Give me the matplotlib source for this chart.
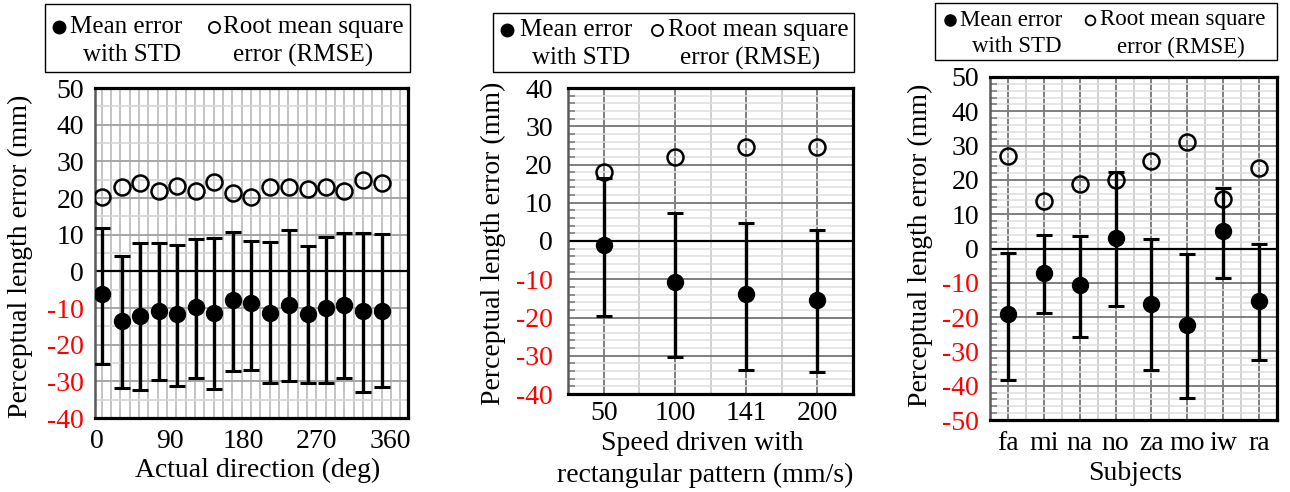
import matplotlib
matplotlib.use('Agg')
import matplotlib.pyplot as plt
import numpy as np
from matplotlib.patches import Rectangle
from matplotlib.lines import Line2D
from matplotlib.ticker import FixedLocator, MultipleLocator

# ---------------- data ----------------
directions = [6, 31, 53, 76, 99, 122, 144, 167, 190, 213, 236, 259, 281, 304, 327, 350]
dir_mean = [-6.3, -13.6, -12.1, -10.7, -11.5, -9.8, -11.3, -7.7, -8.6, -11.3, -9.3, -11.5, -10.0, -9.1, -10.7, -10.7]
dir_upper = [11.8, 4.3, 7.7, 7.7, 7.3, 8.8, 9.1, 10.7, 8.4, 7.9, 11.4, 6.8, 9.3, 10.5, 10.5, 10.2]
dir_lower = [-25.4, -31.8, -32.4, -29.7, -31.4, -29.2, -32.1, -27.1, -26.8, -30.4, -30.0, -30.4, -30.4, -29.2, -32.9, -31.6]
dir_rmse = [20.3, 23.0, 24.1, 22.0, 23.2, 22.0, 24.3, 21.4, 20.3, 23.0, 23.0, 22.5, 23.0, 22.0, 25.0, 24.1]
dir_ticks = [0, 90, 180, 270, 360]

speed_labels = ['50', '100', '141', '200']
speed_mean = [-1.0, -10.6, -13.9, -15.4]
speed_upper = [16.4, 7.4, 4.8, 2.9]
speed_lower = [-19.5, -30.2, -33.7, -34.3]
speed_rmse = [18.1, 22.0, 24.5, 24.5]

subjects = ['fa', 'mi', 'na', 'no', 'za', 'mo', 'iw', 'ra']
subj_mean = [-19.1, -7.1, -10.5, 3.0, -16.3, -22.4, 5.0, -15.2]
subj_upper = [-1.3, 4.0, 3.6, 22.2, 2.8, -1.7, 17.7, 1.2]
subj_lower = [-38.3, -18.9, -25.9, -16.8, -35.4, -43.6, -8.7, -32.5]
subj_rmse = [27.1, 13.8, 18.9, 20.1, 25.4, 31.0, 14.5, 23.4]

ylabel = 'Perceptual length error (mm)'
leg_mean = ('Mean error', 'with STD')
leg_rmse = ('Root mean square', 'error (RMSE)')

# ---------------- figure ----------------
W, H = 1290, 492
plt.rcParams['font.family'] = ['Liberation Serif', 'DejaVu Serif']
fig = plt.figure(figsize=(W / 100, H / 100), dpi=100)


def fx(x):
    return x / W


def fy(y):
    return 1 - y / H


def add_axes(l, t, r, b):
    return fig.add_axes([fx(l), fy(b), (r - l) / W, (b - t) / H])


TICK_FS = 20
LAB_FS = 20


def style_axes(ax, ymin, ymax, ymin_minor, pad_y, pad_x, left_ticks=True):
    ax.set_ylim(ymin, ymax)
    yt = list(range(ymin, ymax + 1, 10))
    ax.set_yticks(yt)
    ax.set_yticklabels([str(v) for v in yt], fontsize=TICK_FS)
    for lab, v in zip(ax.get_yticklabels(), yt):
        lab.set_color('#ff0000' if v < 0 else 'black')
    ax.yaxis.set_minor_locator(MultipleLocator(ymin_minor))
    ax.tick_params(axis='y', which='major', length=0, pad=pad_y)
    if left_ticks:
        ax.tick_params(axis='y', which='minor', direction='in', length=5,
                       width=1.2, color='#808080')
    else:
        ax.tick_params(axis='y', which='minor', length=0)
    ax.tick_params(axis='x', which='both', length=0, pad=pad_x, labelsize=TICK_FS)
    for s in ['top', 'right', 'bottom']:
        ax.spines[s].set_color('black')
        ax.spines[s].set_linewidth(2.3)
    ax.spines['left'].set_color('#595959')
    ax.spines['left'].set_linewidth(1.8)
    ax.set_axisbelow(True)
    ax.axhline(0, color='black', lw=1.6, zorder=2)


def draw_data(ax, x, mean, upper, lower, rmse):
    m = np.array(mean)
    yerr = [m - np.array(lower), np.array(upper) - m]
    ax.errorbar(x, mean, yerr=yerr, fmt='o', color='black', ms=11.5,
                elinewidth=2.4, capsize=5.5, capthick=2.2, zorder=3)
    ax.plot(x, rmse, 'o', mfc='none', mec='black', ms=11.5, mew=1.8,
            ls='none', zorder=4)


# ---- panel 1 ----
ax1 = add_axes(95, 88, 408, 418)
ax1.set_xlim(-2.1, 382.1)
style_axes(ax1, -40, 50, 5, 8, 8, left_ticks=False)
ax1.set_xticks(dir_ticks)
ax1.set_xticklabels([str(v) for v in dir_ticks])
ax1.xaxis.set_minor_locator(FixedLocator(np.arange(6.1, 382, 11.45)))
ax1.grid(True, axis='y', which='major', color='#a6a6a6', lw=1.4)
ax1.grid(True, axis='y', which='minor', color='#d6d6d6', lw=1.2)
ax1.grid(True, axis='x', which='minor', color='#c4c4c4', lw=1.4)
draw_data(ax1, directions, dir_mean, dir_upper, dir_lower, dir_rmse)

# ---- panel 2 ----
ax2 = add_axes(568, 88, 853, 394)
n2 = len(speed_labels)
xs2 = np.arange(n2)
ax2.set_xlim(-0.5, n2 - 0.5)
style_axes(ax2, -40, 40, 2, 11, 5)
ax2.set_xticks(xs2)
ax2.set_xticklabels(speed_labels)
ax2.xaxis.set_minor_locator(FixedLocator(np.arange(-0.5, n2, 1.0)))
ax2.grid(True, axis='y', which='major', color='#7f7f7f', lw=1.4)
ax2.grid(True, axis='y', which='minor', color='#dedede', lw=1.1)
ax2.grid(True, axis='x', which='major', color='#7f7f7f', lw=1.4)
ax2.grid(True, axis='x', which='minor', color='#d0d0d0', lw=1.4)
draw_data(ax2, xs2, speed_mean, speed_upper, speed_lower, speed_rmse)

# ---- panel 3 ----
ax3 = add_axes(990, 77, 1277, 420)
n3 = len(subjects)
xs3 = np.arange(n3)
ax3.set_xlim(-0.5, n3 - 0.5)
style_axes(ax3, -50, 50, 2, 8, 8)
ax3.set_xticks(xs3)
ax3.set_xticklabels(subjects)
ax3.xaxis.set_minor_locator(FixedLocator(np.arange(-0.5, n3, 1.0)))
ax3.grid(True, axis='y', which='major', color='#7f7f7f', lw=1.4)
ax3.grid(True, axis='y', which='minor', color='#dedede', lw=1.1)
ax3.grid(True, axis='x', which='major', color='#7f7f7f', lw=1.4)
ax3.grid(True, axis='x', which='minor', color='#d0d0d0', lw=1.4)
draw_data(ax3, xs3, subj_mean, subj_upper, subj_lower, subj_rmse)

# ---- axis labels (figure text) ----
fig.text(fx(20), fy(256), ylabel, rotation=90, ha='center', va='center', fontsize=LAB_FS)
fig.text(fx(493), fy(243), ylabel, rotation=90, ha='center', va='center', fontsize=LAB_FS)
fig.text(fx(920), fy(245), ylabel, rotation=90, ha='center', va='center', fontsize=LAB_FS)
fig.text(fx(258), fy(470), 'Actual direction (deg)', ha='center', va='center', fontsize=LAB_FS)
fig.text(fx(702), fy(443), 'Speed driven with', ha='center', va='center', fontsize=LAB_FS)
fig.text(fx(705), fy(475), 'rectangular pattern (mm/s)', ha='center', va='center', fontsize=LAB_FS)
fig.text(fx(1135), fy(473), 'Subjects', ha='center', va='center', fontsize=LAB_FS)


# ---- legends ----
def legend_box(box, fm_x, m_x, fo_x, r_x, w_x, e_x, y1, y2, fs, ms):
    l, t, r, b = box
    fig.add_artist(Rectangle((fx(l), fy(b)), (r - l) / W, (b - t) / H,
                             transform=fig.transFigure, fill=False,
                             edgecolor='black', lw=1.0))
    fig.add_artist(Line2D([fx(fm_x)], [fy(y1)], marker='o', ms=ms, color='black',
                          ls='none', transform=fig.transFigure))
    fig.add_artist(Line2D([fx(fo_x)], [fy(y1)], marker='o', ms=ms - 1, mfc='none',
                          mec='black', mew=1.3, ls='none', transform=fig.transFigure))
    fig.text(fx(m_x), fy(y1), leg_mean[0], ha='left', va='center', fontsize=fs)
    fig.text(fx(r_x), fy(y1), leg_rmse[0], ha='left', va='center', fontsize=fs)
    fig.text(fx(w_x), fy(y2), leg_mean[1], ha='left', va='center', fontsize=fs)
    fig.text(fx(e_x), fy(y2), leg_rmse[1], ha='left', va='center', fontsize=fs)


legend_box((45, 4, 410, 72), 59, 70, 214, 223, 83, 233, 27, 55, 18, 9)
legend_box((493, 13, 854, 72), 507, 520, 657, 668, 532, 680, 30, 58, 18, 9)
legend_box((935, 3, 1277, 60), 950, 960, 1090, 1100, 972, 1117, 20, 47, 16.5, 8)

fig.savefig('out.png', dpi=100)
